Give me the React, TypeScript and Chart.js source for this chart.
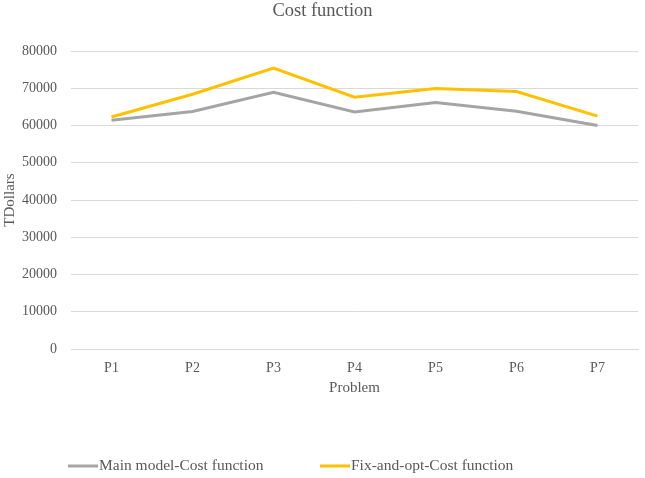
import { useEffect, useRef } from "react";
import { Chart, registerables } from "chart.js";

Chart.register(...registerables);

const TITLE = "Cost function";
const X_TITLE = "Problem";
const Y_TITLE = "TDollars";
const categories = ["P1", "P2", "P3", "P4", "P5", "P6", "P7"];
const mainModel = [61400, 63750, 68900, 63650, 66200, 63800, 60000];
const fixAndOpt = [62300, 68400, 75400, 67600, 69900, 69100, 62500];
const seriesNames = ["Main model-Cost function", "Fix-and-opt-Cost function"];
const seriesColors = ["#A5A5A5", "#FFC000"];
const yMin = 0;
const yMax = 80000;
const yStep = 10000;

const FONT = "'Liberation Serif', 'Times New Roman', serif";
const TEXT = "#595959";

const overlay = {
  id: "overlay",
  afterDraw(chart: any) {
    const { ctx, chartArea, width } = chart;
    ctx.save();
    ctx.fillStyle = TEXT;
    ctx.font = `18.5px ${FONT}`;
    ctx.textAlign = "center";
    ctx.textBaseline = "middle";
    ctx.fillText(TITLE, width / 2, 11);
    ctx.font = `15px ${FONT}`;
    ctx.fillText(X_TITLE, (chartArea.left + chartArea.right) / 2, 388);
    ctx.save();
    ctx.translate(10, (chartArea.top + chartArea.bottom) / 2);
    ctx.rotate(-Math.PI / 2);
    ctx.fillText(Y_TITLE, 0, 0);
    ctx.restore();
    const legendX = [68, 320];
    const ly = 466;
    ctx.font = `15.5px ${FONT}`;
    ctx.textAlign = "left";
    seriesNames.forEach((name, i) => {
      const x = legendX[i];
      ctx.strokeStyle = seriesColors[i];
      ctx.lineWidth = 3;
      ctx.beginPath();
      ctx.moveTo(x, ly);
      ctx.lineTo(x + 30, ly);
      ctx.stroke();
      ctx.fillStyle = TEXT;
      ctx.fillText(name, x + 31, ly);
    });
    ctx.restore();
  },
};

export default function App() {
  const ref = useRef<HTMLCanvasElement>(null);
  useEffect(() => {
    if (!ref.current) return;
    const chart = new Chart(ref.current, {
      type: "line",
      data: {
        labels: categories,
        datasets: [
          {
            label: seriesNames[0],
            data: mainModel,
            borderColor: seriesColors[0],
            backgroundColor: seriesColors[0],
            borderWidth: 3,
            pointRadius: 0,
            tension: 0,
          },
          {
            label: seriesNames[1],
            data: fixAndOpt,
            borderColor: seriesColors[1],
            backgroundColor: seriesColors[1],
            borderWidth: 3,
            pointRadius: 0,
            tension: 0,
          },
        ],
      },
      options: {
        responsive: false,
        animation: false,
        layout: { padding: { top: 51, left: 0, right: 7, bottom: 0 } },
        plugins: {
          legend: { display: false },
          title: { display: false },
          tooltip: { enabled: false },
        },
        scales: {
          x: {
            offset: true,
            grid: { display: false, drawTicks: false, offset: true },
            border: { display: true, color: "#D9D9D9", width: 1 },
            ticks: { color: TEXT, font: { family: FONT, size: 14 }, padding: 11, maxRotation: 0 },
            afterFit(scale: any) {
              scale.height = 129;
            },
          },
          y: {
            min: yMin,
            max: yMax,
            grid: { color: "#D9D9D9", drawTicks: false, lineWidth: 1 },
            border: { display: false },
            ticks: {
              stepSize: yStep,
              color: TEXT,
              font: { family: FONT, size: 14 },
              padding: 14,
              callback: (v: any) => String(v),
            },
            afterFit(scale: any) {
              scale.width = 71;
            },
          },
        },
      },
      plugins: [overlay],
    });
    return () => chart.destroy();
  }, []);
  return (
    <div style={{ position: "absolute", left: 0, top: 0, width: 645, height: 478, background: "#fff" }}>
      <canvas ref={ref} width={645} height={478} style={{ display: "block" }} />
    </div>
  );
}
